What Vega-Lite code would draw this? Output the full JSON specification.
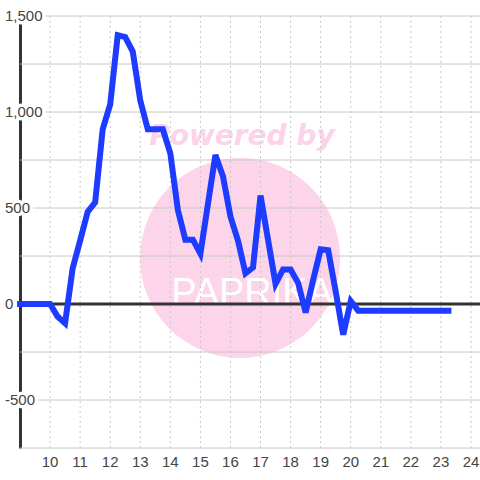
{
  "$schema": "https://vega.github.io/schema/vega-lite/v6.json",
  "autosize": "none",
  "width": 460,
  "height": 432,
  "padding": {"left": 20, "top": 16, "right": 0, "bottom": 32},
  "background": "white",
  "datasets": {
    "series": [
      {"t": 9.0, "v": 0}, {"t": 9.25, "v": 0}, {"t": 9.5, "v": 0}, {"t": 9.75, "v": 0},
      {"t": 10.0, "v": 0}, {"t": 10.25, "v": -65}, {"t": 10.5, "v": -100}, {"t": 10.75, "v": 185},
      {"t": 11.0, "v": 330}, {"t": 11.25, "v": 480}, {"t": 11.5, "v": 530}, {"t": 11.75, "v": 910},
      {"t": 12.0, "v": 1040}, {"t": 12.25, "v": 1400}, {"t": 12.5, "v": 1390}, {"t": 12.75, "v": 1315},
      {"t": 13.0, "v": 1060}, {"t": 13.25, "v": 910}, {"t": 13.5, "v": 910}, {"t": 13.75, "v": 910},
      {"t": 14.0, "v": 785}, {"t": 14.25, "v": 490}, {"t": 14.5, "v": 335}, {"t": 14.75, "v": 335},
      {"t": 15.0, "v": 262}, {"t": 15.25, "v": 520}, {"t": 15.5, "v": 776}, {"t": 15.75, "v": 665},
      {"t": 16.0, "v": 455}, {"t": 16.25, "v": 330}, {"t": 16.5, "v": 160}, {"t": 16.75, "v": 190},
      {"t": 17.0, "v": 565}, {"t": 17.25, "v": 335}, {"t": 17.5, "v": 105}, {"t": 17.75, "v": 180},
      {"t": 18.0, "v": 180}, {"t": 18.25, "v": 110}, {"t": 18.5, "v": -45}, {"t": 18.75, "v": 125},
      {"t": 19.0, "v": 285}, {"t": 19.25, "v": 280}, {"t": 19.5, "v": 65}, {"t": 19.75, "v": -160},
      {"t": 20.0, "v": 15}, {"t": 20.25, "v": -35}, {"t": 20.5, "v": -35}, {"t": 20.75, "v": -35},
      {"t": 21.0, "v": -35}, {"t": 21.25, "v": -35}, {"t": 21.5, "v": -35}, {"t": 21.75, "v": -35},
      {"t": 22.0, "v": -35}, {"t": 22.25, "v": -35}, {"t": 22.5, "v": -35}, {"t": 22.75, "v": -35},
      {"t": 23.0, "v": -35}, {"t": 23.25, "v": -35}
    ],
    "yticks": [
      {"v": 1500, "label": "1,500"}, {"v": 1000, "label": "1,000"}, {"v": 500, "label": "500"},
      {"v": 0, "label": "0"}, {"v": -500, "label": "-500"}
    ],
    "xgrid": [
      {"t": 10, "label": "10"}, {"t": 11, "label": "11"}, {"t": 12, "label": "12"}, {"t": 13, "label": "13"},
      {"t": 14, "label": "14"}, {"t": 15, "label": "15"}, {"t": 16, "label": "16"}, {"t": 17, "label": "17"},
      {"t": 18, "label": "18"}, {"t": 19, "label": "19"}, {"t": 20, "label": "20"}, {"t": 21, "label": "21"},
      {"t": 22, "label": "22"}, {"t": 23, "label": "23"}, {"t": 24, "label": "24"}
    ],
    "ygrid": [
      {"v": 1500}, {"v": 1250}, {"v": 1000}, {"v": 750}, {"v": 500}, {"v": 250},
      {"v": -250}, {"v": -500}, {"v": -750}
    ]
  },
  "layer": [
    {
      "data": {"values": [{"name": "watermark"}]},
      "mark": {"type": "point", "shape": "circle", "filled": true, "size": 40000, "color": "#fcd5ea", "opacity": 1},
      "encoding": {
        "x": {"datum": 16.32, "type": "quantitative", "scale": {"domain": [9.0, 24.3], "nice": false, "zero": false}},
        "y": {"datum": 240, "type": "quantitative", "scale": {"domain": [-750, 1500], "nice": false, "zero": false}}
      }
    },
    {
      "data": {"values": [{"name": "Powered by"}]},
      "mark": {"type": "text", "text": "Powered by", "font": "DejaVu Sans", "fontSize": 28, "fontWeight": "bold", "fontStyle": "italic", "color": "#fcd3e8", "align": "center", "baseline": "alphabetic"},
      "encoding": {
        "x": {"datum": 16.38, "type": "quantitative"},
        "y": {"datum": 828, "type": "quantitative"}
      }
    },
    {
      "data": {"values": [{"name": "PAPRIKA"}]},
      "mark": {"type": "text", "text": "PAPRIKA", "font": "Liberation Sans", "fontSize": 38, "color": "white", "align": "center", "baseline": "alphabetic"},
      "encoding": {
        "x": {"datum": 16.72, "type": "quantitative"},
        "y": {"datum": -5, "type": "quantitative"}
      }
    },
    {
      "data": {"name": "xgrid"},
      "mark": {"type": "rule", "color": "#c8c8c8", "strokeWidth": 1, "strokeDash": [2, 3]},
      "encoding": {
        "x": {"field": "t", "type": "quantitative", "title": null}
      }
    },
    {
      "data": {"name": "ygrid"},
      "mark": {"type": "rule", "color": "#c8c8c8", "strokeWidth": 1},
      "encoding": {
        "y": {"field": "v", "type": "quantitative", "title": null}
      }
    },
    {
      "data": {"values": [{"name": "zero"}]},
      "mark": {"type": "rule", "color": "#333333", "strokeWidth": 3},
      "encoding": {
        "y": {"datum": 0, "type": "quantitative"}
      }
    },
    {
      "data": {"name": "xgrid"},
      "mark": {"type": "text", "font": "Liberation Sans", "fontSize": 15, "color": "#444444", "align": "center", "baseline": "middle", "dy": 14},
      "encoding": {
        "x": {"field": "t", "type": "quantitative", "title": null},
        "y": {"datum": -750, "type": "quantitative"},
        "text": {"field": "label"}
      }
    },
    {
      "data": {"name": "yticks"},
      "mark": {"type": "text", "font": "Liberation Sans", "fontSize": 15, "fill": "white", "stroke": "white", "strokeWidth": 7, "strokeJoin": "round", "align": "left", "baseline": "middle", "dx": -15},
      "encoding": {
        "x": {"datum": 9.0, "type": "quantitative"},
        "y": {"field": "v", "type": "quantitative", "title": null},
        "text": {"field": "label"}
      }
    },
    {
      "data": {"name": "yticks"},
      "mark": {"type": "text", "font": "Liberation Sans", "fontSize": 15, "color": "#444444", "align": "left", "baseline": "middle", "dx": -15},
      "encoding": {
        "x": {"datum": 9.0, "type": "quantitative"},
        "y": {"field": "v", "type": "quantitative", "title": null},
        "text": {"field": "label"}
      }
    },
    {
      "data": {"name": "series"},
      "mark": {"type": "line", "color": "#1e3cff", "strokeWidth": 6, "strokeCap": "square", "strokeJoin": "miter"},
      "encoding": {
        "x": {"field": "t", "type": "quantitative", "title": null},
        "y": {"field": "v", "type": "quantitative", "title": null}
      }
    }
  ],
  "config": {
    "view": {"stroke": null},
    "axisX": {"grid": false, "domain": false, "ticks": false, "labels": false},
    "axisY": {"grid": false, "labels": false, "ticks": false, "domain": true, "domainColor": "#333333", "domainWidth": 3}
  }
}
